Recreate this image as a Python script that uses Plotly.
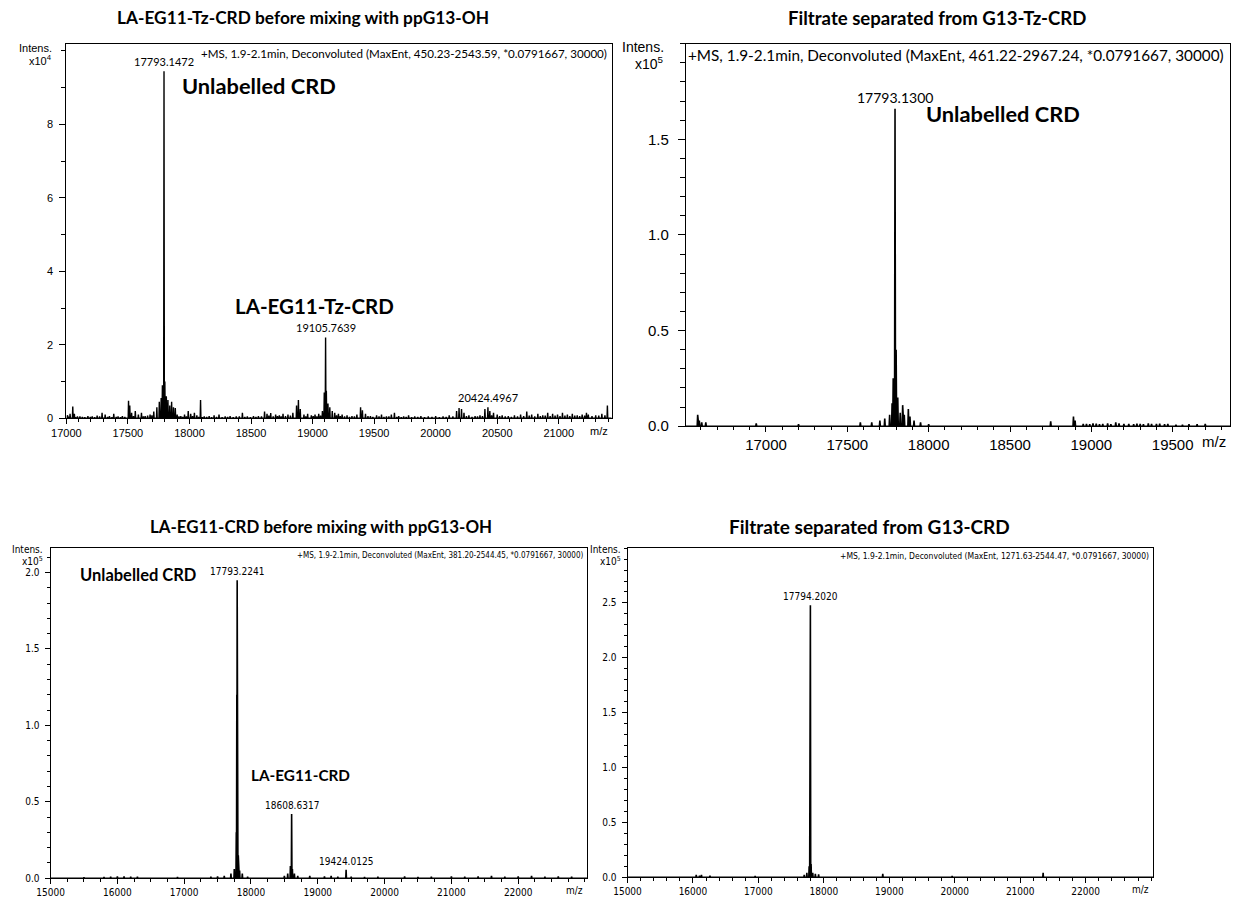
import plotly.graph_objects as go

W, H = 1241, 906

# ---------------- spectrum data (m/z, intensity in axis units) ----------------
# Panel A: LA-EG11-Tz-CRD before mixing (intensity x10^4)
a_mz = [17008, 17030, 17052, 17065, 17090, 17130, 17175, 17210, 17250, 17290,
        17315, 17350, 17385, 17420, 17455, 17505, 17515, 17530, 17560, 17585,
        17610, 17640, 17680, 17710, 17735, 17755, 17770, 17780, 17793.1472, 17800,
        17812, 17825, 17840, 17855, 17870, 17885, 17900, 17930, 17960, 17990,
        18010, 18040, 18060, 18090, 18120, 18160, 18200, 18240, 18290, 18330,
        18380, 18430, 18470, 18520, 18560, 18610, 18630, 18660, 18700, 18730,
        18760, 18800, 18840, 18870, 18885, 18900, 18930, 18960, 18990, 19020,
        19050, 19080, 19095, 19105.7639, 19112, 19125, 19140, 19160, 19180, 19210,
        19240, 19280, 19320, 19360, 19390, 19405, 19430, 19470, 19520, 19560,
        19600, 19640, 19665, 19700, 19740, 19780, 19830, 19880, 19940, 20000,
        20060, 20110, 20170, 20190, 20210, 20230, 20270, 20320, 20360, 20400,
        20424.4967, 20440, 20470, 20500, 20540, 20590, 20640, 20690, 20740, 20780,
        20830, 20870, 20910, 20950, 20990, 21030, 21070, 21110, 21150, 21190,
        21225, 21240, 21300, 21350, 21395]
a_int = [0.08, 0.12, 0.32, 0.12, 0.05, 0.04, 0.06, 0.05, 0.07, 0.15,
         0.10, 0.06, 0.12, 0.05, 0.06, 0.48, 0.35, 0.15, 0.20, 0.10,
         0.15, 0.06, 0.10, 0.18, 0.30, 0.45, 0.55, 0.90, 9.45, 1.00,
         0.60, 0.50, 0.35, 0.45, 0.30, 0.28, 0.10, 0.06, 0.10, 0.20,
         0.12, 0.15, 0.08, 0.50, 0.05, 0.06, 0.08, 0.10, 0.05, 0.06,
         0.05, 0.15, 0.05, 0.06, 0.06, 0.18, 0.12, 0.14, 0.10, 0.08,
         0.12, 0.10, 0.15, 0.35, 0.50, 0.25, 0.10, 0.12, 0.08, 0.10,
         0.12, 0.20, 0.70, 2.20, 0.75, 0.40, 0.30, 0.20, 0.15, 0.12,
         0.10, 0.08, 0.06, 0.10, 0.30, 0.22, 0.12, 0.06, 0.08, 0.10,
         0.05, 0.10, 0.15, 0.06, 0.05, 0.08, 0.05, 0.06, 0.05, 0.06,
         0.05, 0.08, 0.20, 0.28, 0.25, 0.15, 0.08, 0.06, 0.08, 0.25,
         0.30, 0.20, 0.15, 0.10, 0.08, 0.06, 0.08, 0.10, 0.18, 0.10,
         0.12, 0.08, 0.15, 0.12, 0.10, 0.15, 0.10, 0.12, 0.08, 0.10,
         0.15, 0.10, 0.08, 0.12, 0.35]
# low-level baseline fluctuations of panel A
a_noise_mz = [17020, 17075, 17110, 17150, 17195, 17230, 17270, 17335, 17370, 17405,
              17440, 17475, 17545, 17625, 17660, 17695, 17915, 17945, 17975, 18025,
              18075, 18105, 18140, 18180, 18220, 18265, 18310, 18355, 18405, 18450,
              18495, 18540, 18585, 18645, 18680, 18715, 18745, 18780, 18820, 18945,
              19005, 19035, 19065, 19195, 19225, 19260, 19300, 19340, 19450, 19490,
              19540, 19580, 19620, 19685, 19720, 19760, 19805, 19855, 19910, 19970,
              20030, 20085, 20140, 20250, 20295, 20340, 20380, 20455, 20520, 20565,
              20615, 20665, 20715, 20760, 20805, 20850, 20890, 20930, 20970, 21010,
              21050, 21090, 21130, 21170, 21210, 21270, 21325, 21375]
a_noise_int = [0.04, 0.03, 0.05, 0.03, 0.04, 0.03, 0.05, 0.04, 0.03, 0.04,
               0.03, 0.04, 0.06, 0.05, 0.07, 0.08, 0.05, 0.04, 0.05, 0.06,
               0.04, 0.03, 0.04, 0.03, 0.04, 0.03, 0.04, 0.03, 0.05, 0.04,
               0.03, 0.04, 0.05, 0.07, 0.05, 0.06, 0.05, 0.06, 0.07, 0.05,
               0.06, 0.05, 0.07, 0.08, 0.06, 0.05, 0.04, 0.05, 0.06, 0.04,
               0.05, 0.04, 0.05, 0.04, 0.03, 0.04, 0.03, 0.04, 0.03, 0.04,
               0.03, 0.04, 0.05, 0.06, 0.04, 0.05, 0.06, 0.08, 0.06, 0.05,
               0.04, 0.05, 0.06, 0.07, 0.05, 0.06, 0.07, 0.06, 0.07, 0.06,
               0.07, 0.06, 0.07, 0.06, 0.07, 0.06, 0.07, 0.08]
a_labels = [17793.1472, 19105.7639, 20424.4967]

# Panel B: filtrate separated from G13-Tz-CRD (intensity x10^5)
b_mz = [16580, 16590, 16605, 16630, 16940, 17200, 17580, 17650, 17700, 17730,
        17760, 17775, 17782, 17793.13, 17800, 17810, 17825, 17840, 17850, 17875,
        17885, 17910, 17950, 18000, 18750, 18890, 18900, 18970, 19010, 19050,
        19100, 19150, 19200, 19260, 19300, 19350, 19400, 19450, 19520, 19600]
b_int = [0.06, 0.03, 0.02, 0.02, 0.015, 0.01, 0.02, 0.02, 0.03, 0.04,
         0.06, 0.12, 0.25, 1.66, 0.40, 0.15, 0.07, 0.11, 0.06, 0.09,
         0.05, 0.03, 0.02, 0.01, 0.025, 0.05, 0.03, 0.012, 0.015, 0.01,
         0.015, 0.02, 0.012, 0.01, 0.012, 0.015, 0.012, 0.01, 0.008, 0.01]
# low-level band of noise beyond 18950 in panel B
b_noise_mz = [18950, 18990, 19030, 19070, 19120, 19170, 19230, 19280, 19320, 19370,
              19420, 19470, 19560, 19650, 19700]
b_noise_int = [0.012, 0.01, 0.014, 0.012, 0.01, 0.015, 0.012, 0.014, 0.01, 0.012,
               0.014, 0.012, 0.008, 0.01, 0.012]
b_labels = [17793.13]

# Panel C: LA-EG11-CRD before mixing (intensity x10^5)
c_mz = [15500, 15800, 15900, 16000, 16100, 16200, 16300, 16900, 17400, 17500,
        17600, 17700, 17750, 17780, 17788, 17793.2241, 17810, 17830, 17870, 17950,
        18500, 18550, 18590, 18608.6317, 18620, 18650, 18700, 18880, 19100, 19200,
        19300, 19424.0125, 19500, 19700, 19900, 20300, 20500, 20700, 21000, 21200,
        21400, 21600, 21800, 22000, 22200, 22400, 22600, 22800]
c_int = [0.005, 0.008, 0.01, 0.012, 0.012, 0.01, 0.01, 0.008, 0.01, 0.012,
         0.015, 0.03, 0.06, 0.30, 1.20, 1.95, 0.15, 0.05, 0.03, 0.01,
         0.015, 0.03, 0.08, 0.42, 0.06, 0.03, 0.015, 0.015, 0.012, 0.015,
         0.01, 0.055, 0.01, 0.008, 0.01, 0.012, 0.008, 0.01, 0.012, 0.01,
         0.012, 0.015, 0.01, 0.012, 0.015, 0.01, 0.012, 0.01]
c_labels = [17793.2241, 18608.6317, 19424.0125]

# Panel D: filtrate separated from G13-CRD (intensity x10^5)
d_mz = [16050, 16100, 16130, 16260, 16950, 17700, 17740, 17775, 17788, 17794.2020,
        17805, 17830, 17870, 17920, 18900, 19960, 21350]
d_int = [0.02, 0.015, 0.02, 0.015, 0.01, 0.02, 0.04, 0.10, 1.60, 2.48,
         0.12, 0.04, 0.03, 0.025, 0.03, 0.01, 0.04]
d_labels = [17794.2020]

titles = ["LA-EG11-Tz-CRD before mixing with ppG13-OH",
          "Filtrate separated from G13-Tz-CRD",
          "LA-EG11-CRD before mixing with ppG13-OH",
          "Filtrate separated from G13-CRD"]
headers = ["+MS, 1.9-2.1min, Deconvoluted (MaxEnt, 450.23-2543.59, *0.0791667, 30000)",
           "+MS, 1.9-2.1min, Deconvoluted (MaxEnt, 461.22-2967.24, *0.0791667, 30000)",
           "+MS, 1.9-2.1min, Deconvoluted (MaxEnt, 381.20-2544.45, *0.0791667, 30000)",
           "+MS, 1.9-2.1min, Deconvoluted (MaxEnt, 1271.63-2544.47, *0.0791667, 30000)"]
exponents = [4, 5, 5, 5]


def px(x):
    return x / W


def py(y):
    return 1 - y / H


def stick_profile(mz, inten, half_width, lo, hi):
    """Turn centroid peaks into a line profile (baseline - apex - baseline)."""
    pairs = sorted(zip(mz, inten))
    xs, ys = [lo], [0]
    for m, v in pairs:
        xs += [m - half_width, m, m + half_width]
        ys += [0, v, 0]
    xs.append(hi)
    ys.append(0)
    return xs, ys


ARIAL = "Liberation Sans, Arial, sans-serif"
NARROW = "Liberation Sans Narrow, DejaVu Sans Condensed, Arial Narrow, sans-serif"
CAL = "Lato, Carlito, Calibri, sans-serif"

panels = [
    dict(mz=a_mz, it=a_int, nz=(a_noise_mz, a_noise_int), lab=a_labels,
         box=(52, 604, 44, 422), xr=(17000, 21430),
         yr=(0, 10.2), w=3, xmin=100, yvals=[0, 2, 4, 6, 8], ymin=1, yfmt="d",
         tickfont=dict(family=ARIAL, size=11, color="black"),
         hdr=dict(family=CAL, size=11.6), hdr_dx=3, hdr_dy=1,
         lab_font=dict(family=CAL, size=11), int_font=dict(family=ARIAL, size=11),
         int_dx=13, int_y=(4, 17), xvals=list(range(17000, 21001, 500)), lw=1.4, yt=6, sto=4),
    dict(mz=b_mz, it=b_int, nz=(b_noise_mz, b_noise_int), lab=b_labels,
         box=(679, 1230, 44, 430), xr=(16507, 19853),
         yr=(0, 2.0), w=3, xmin=100, yvals=[0, 0.5, 1.0, 1.5], ymin=0.1, yfmt=".1f",
         tickfont=dict(family=ARIAL, size=15, color="black"),
         hdr=dict(family=CAL, size=15.3), hdr_dx=4, hdr_dy=0,
         lab_font=dict(family=CAL, size=14), int_font=dict(family=ARIAL, size=14),
         int_dx=20, int_y=(3, 20), xvals=list(range(17000, 19501, 500)), lw=1.6, yt=7, sto=6),
    dict(mz=c_mz, it=c_int, nz=([], []), lab=c_labels,
         box=(36, 579, 553, 886), xr=(15000, 23030),
         yr=(0, 2.16), w=5, xmin=250, yvals=[0, 0.5, 1.0, 1.5, 2.0], ymin=0.1, yfmt=".1f",
         tickfont=dict(family=NARROW, size=10, color="black"),
         hdr=dict(family=NARROW, size=8.0), hdr_dx=2, hdr_dy=1,
         lab_font=dict(family=NARROW, size=10), int_font=dict(family=NARROW, size=10),
         int_dx=6, int_y=(1, 13), xvals=list(range(15000, 22001, 1000)), lw=1.6, yt=5, sto=3),
    dict(mz=d_mz, it=d_int, nz=([], []), lab=d_labels,
         box=(620, 1152, 553, 885), xr=(15000, 23030),
         yr=(0, 3.0), w=5, xmin=200, yvals=[0, 0.5, 1.0, 1.5, 2.0, 2.5], ymin=0.1, yfmt=".1f",
         tickfont=dict(family=NARROW, size=10, color="black"),
         hdr=dict(family=NARROW, size=8.5), hdr_dx=2, hdr_dy=1,
         lab_font=dict(family=NARROW, size=10), int_font=dict(family=NARROW, size=10),
         int_dx=5, int_y=(1, 13), xvals=list(range(15000, 22001, 1000)), lw=1.6, yt=5, sto=3),
]

# title centre (x, y) and font size per panel
title_pos = [(292, 18, 17.3), (933, 18, 18.6), (310, 531, 16.9), (865, 531, 19.0)]

fig = go.Figure()
annotations = []

for i, p in enumerate(panels):
    n = "" if i == 0 else str(i + 1)
    x0, x1, y0, y1 = p["box"]
    all_mz = list(p["mz"]) + list(p["nz"][0])
    all_it = list(p["it"]) + list(p["nz"][1])
    xs, ys = stick_profile(all_mz, all_it, p["w"], p["xr"][0], p["xr"][1])
    fig.add_trace(go.Scatter(x=xs, y=ys, mode="lines", xaxis="x" + n, yaxis="y" + n,
                             line=dict(color="black", width=p["lw"]), showlegend=False,
                             hoverinfo="skip"))

    fig.layout["xaxis" + n] = dict(
        domain=[px(x0), px(x1)], range=list(p["xr"]), anchor="y" + n,
        showline=True, linecolor="black", linewidth=1, mirror=True,
        showgrid=False, zeroline=False, ticks="outside", ticklen=5, tickcolor="black",
        tickvals=p["xvals"], tickfont=p["tickfont"], tickformat="d",
        minor=dict(dtick=p["xmin"], tick0=p["xr"][0] - p["xr"][0] % p["xmin"],
                   ticks="outside", ticklen=3, tickcolor="black", showgrid=False),
        fixedrange=True)
    fig.layout["yaxis" + n] = dict(
        domain=[py(y1), py(y0)], range=list(p["yr"]), anchor="x" + n,
        showline=True, linecolor="black", linewidth=1, mirror=True,
        showgrid=False, zeroline=False, ticks="outside", ticklen=p["yt"], tickcolor="black",
        tickvals=p["yvals"], tickformat=p["yfmt"], tickfont=p["tickfont"],
        ticklabelstandoff=p["sto"],
        minor=dict(dtick=p["ymin"], tick0=0, ticks="outside", ticklen=p["yt"] - 2,
                   tickcolor="black", showgrid=False),
        fixedrange=True)

    # panel title
    tx, ty, ts = title_pos[i]
    annotations.append(dict(text="<b>%s</b>" % titles[i], x=px(tx), y=py(ty), xref="paper",
                            yref="paper", showarrow=False, xanchor="center", yanchor="middle",
                            font=dict(family=CAL, size=ts, color="black")))
    # acquisition header inside the frame
    annotations.append(dict(text=headers[i], x=px(x1 - p["hdr_dx"]), y=py(y0 + p["hdr_dy"]),
                            xref="paper", yref="paper", showarrow=False, xanchor="right",
                            yanchor="top", font=dict(color="black", **p["hdr"])))
    # intensity axis caption
    iy1, iy2 = p["int_y"]
    annotations.append(dict(text="Intens.", x=px(x0 - p["int_dx"]), y=py(y0 + iy1),
                            xref="paper", yref="paper", showarrow=False, xanchor="right",
                            yanchor="middle", font=dict(color="black", **p["int_font"])))
    annotations.append(dict(text="x10<sup>%d</sup>" % exponents[i], x=px(x0 - p["int_dx"]),
                            y=py(y0 + iy2), xref="paper", yref="paper", showarrow=False,
                            xanchor="right", yanchor="middle",
                            font=dict(color="black", **p["int_font"])))
    # m/z unit at the end of the x axis
    annotations.append(dict(text="m/z", x=px(x1 - 2), y=py(y1 + 5), xref="paper",
                            yref="paper", showarrow=False, xanchor="right", yanchor="top",
                            font=dict(**p["tickfont"])))
    # peak labels
    for m in p["lab"]:
        h = p["it"][p["mz"].index(m)]
        annotations.append(dict(text="%.4f" % m, x=m, y=h, xref="x" + n, yref="y" + n,
                                showarrow=False, xanchor="center", yanchor="bottom", yshift=1,
                                font=dict(color="black", **p["lab_font"])))

# species annotations: text, centre x, centre y, size
species = [("Unlabelled CRD", 247, 86, 21.8), ("LA-EG11-Tz-CRD", 303, 309, 20.5),
           ("Unlabelled CRD", 1000, 115, 21.8), ("Unlabelled CRD", 124, 580, 16.5),
           ("LA-EG11-CRD", 289, 782, 15.3)]
for txt, sx, sy, ss in species:
    annotations.append(dict(text="<b>%s</b>" % txt, x=px(sx), y=py(sy), xref="paper",
                            yref="paper", showarrow=False, xanchor="center", yanchor="middle",
                            font=dict(family=CAL, size=ss, color="black")))

fig.update_layout(width=W, height=H, margin=dict(l=0, r=0, t=0, b=0),
                  paper_bgcolor="white", plot_bgcolor="white",
                  annotations=annotations, showlegend=False)

fig.write_html("out.html", config={"displayModeBar": False})
